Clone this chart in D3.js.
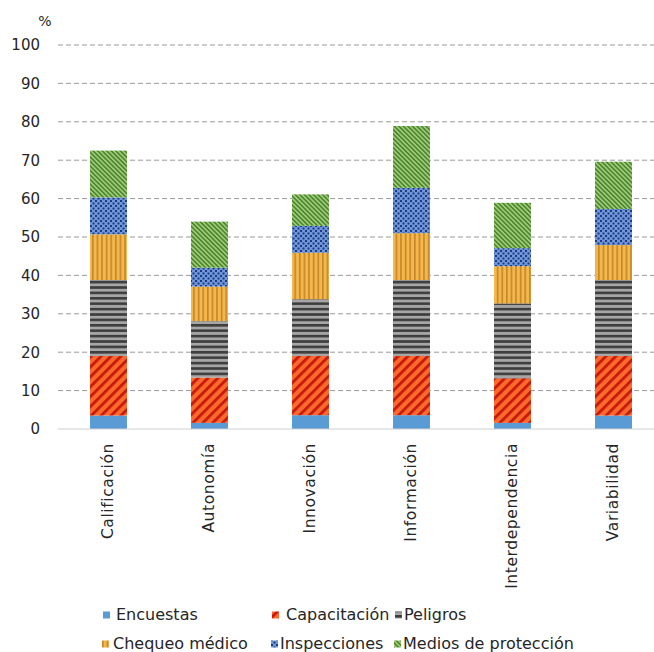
<!DOCTYPE html>
<html>
<head>
<meta charset="utf-8">
<script src="https://cdn.jsdelivr.net/npm/d3@7"></script>
<style>
  body { margin: 0; background: #fff; }
  text { font-family: "DejaVu Sans", Verdana, sans-serif; fill: #262626; }
</style>
</head>
<body>
<div id="chart"></div>
<script>
// categories and series (percent)
const categories = ['Calificación', 'Autonomía', 'Innovación', 'Información', 'Interdependencia', 'Variabilidad'];
const seriesNames = ['Encuestas', 'Capacitación', 'Peligros', 'Chequeo médico', 'Inspecciones', 'Medios de protección'];
const encuestas    = [3.5, 1.6, 3.6, 3.6, 1.6, 3.5];
const capacitacion = [15.5, 11.8, 15.4, 15.4, 11.6, 15.5];
const peligros     = [19.8, 14.7, 14.8, 19.8, 19.5, 19.8];
const chequeo      = [11.9, 9.0, 12.1, 12.2, 9.7, 9.1];
const inspecciones = [9.6, 4.9, 7.0, 11.8, 4.7, 9.4];
const medios       = [12.2, 12.0, 8.2, 16.1, 11.8, 12.3];
const yTicks = [0, 10, 20, 30, 40, 50, 60, 70, 80, 90, 100];

const seriesValues = [encuestas, capacitacion, peligros, chequeo, inspecciones, medios];
const table = categories.map((c, i) => {
  const row = { cat: c };
  seriesNames.forEach((s, j) => { row[s] = seriesValues[j][i]; });
  return row;
});

const w = 654, h = 652;
const svg = d3.select('#chart').append('svg').attr('width', w).attr('height', h);
const defs = svg.append('defs');

// fill patterns
const pat = (id, opts) => defs.append('pattern')
  .attr('id', id)
  .attr('patternUnits', 'userSpaceOnUse')
  .attr('width', opts.w).attr('height', opts.h)
  .attr('patternTransform', opts.t || null);

let p = pat('p-cap', { w: 7, h: 7, t: 'rotate(45)' });
p.append('rect').attr('width', 7).attr('height', 7).attr('fill', '#fb6a2d');
p.append('rect').attr('width', 2.8).attr('height', 7).attr('fill', '#c8180a');

p = pat('p-pel', { w: 5.4, h: 5.4 });
p.append('rect').attr('width', 5.4).attr('height', 5.4).attr('fill', '#a6a6a6');
p.append('rect').attr('width', 5.4).attr('height', 2.6).attr('fill', '#3d3d3d');

p = pat('p-che', { w: 4.6, h: 4.6 });
p.append('rect').attr('width', 4.6).attr('height', 4.6).attr('fill', '#f3b84c');
p.append('rect').attr('width', 1.6).attr('height', 4.6).attr('fill', '#c5852a');

p = pat('p-ins', { w: 5, h: 5 });
p.append('rect').attr('width', 5).attr('height', 5).attr('fill', '#7097dc');
p.append('rect').attr('width', 2).attr('height', 2).attr('fill', '#1f3a7c');
p.append('rect').attr('x', 2.5).attr('y', 2.5).attr('width', 2).attr('height', 2).attr('fill', '#1f3a7c');

p = pat('p-med', { w: 3.2, h: 3.2, t: 'rotate(-45)' });
p.append('rect').attr('width', 3.2).attr('height', 3.2).attr('fill', '#9dcb78');
p.append('rect').attr('width', 1.6).attr('height', 3.2).attr('fill', '#4e8630');

const fills = ['#5b9bd5', 'url(#p-cap)', 'url(#p-pel)', 'url(#p-che)', 'url(#p-ins)', 'url(#p-med)'];
const color = d3.scaleOrdinal().domain(seriesNames).range(fills);

// scales
const x = d3.scaleBand().domain(categories).range([58, 664]).paddingInner(0.634).paddingOuter(0.317);
const y = d3.scaleLinear().domain([0, 100]).range([429, 45]);

// gridlines
svg.append('g').selectAll('line')
  .data(yTicks.filter(d => d > 0))
  .join('line')
  .attr('x1', 58).attr('x2', 664)
  .attr('y1', d => y(d)).attr('y2', d => y(d))
  .attr('stroke', '#9a9a9a').attr('stroke-width', 1)
  .attr('stroke-dasharray', '5,3');

// y axis labels
const yAxis = svg.append('g')
  .attr('transform', 'translate(58,0)')
  .call(d3.axisLeft(y).tickValues(yTicks).tickSize(0).tickPadding(18));
yAxis.select('.domain').remove();
yAxis.selectAll('text').style('font-size', '15px').style('font-family', '"DejaVu Sans", Verdana, sans-serif').attr('fill', '#262626');

svg.append('text').attr('x', 45).attr('y', 22).attr('text-anchor', 'middle')
  .attr('dominant-baseline', 'middle').style('font-size', '14px').text('%');

// stacked bars
const stack = d3.stack().keys(seriesNames)(table);
svg.append('g').selectAll('g')
  .data(stack)
  .join('g')
  .attr('fill', d => color(d.key))
  .selectAll('rect')
  .data(d => d)
  .join('rect')
  .attr('x', d => x(d.data.cat))
  .attr('width', x.bandwidth())
  .attr('y', d => y(d[1]))
  .attr('height', d => y(d[0]) - y(d[1]));

// baseline
svg.append('line').attr('x1', 58).attr('x2', 664)
  .attr('y1', y(0)).attr('y2', y(0))
  .attr('stroke', '#d0d0d0').attr('stroke-width', 1.2);

// category labels
svg.append('g').selectAll('text')
  .data(categories)
  .join('text')
  .attr('transform', d => `translate(${x(d) + x.bandwidth() / 2},443) rotate(-90)`)
  .attr('text-anchor', 'end')
  .attr('dominant-baseline', 'middle')
  .style('font-size', '15.5px')
  .style('letter-spacing', '0.6px')
  .text(d => d);

// legend (two rows, Excel-style packing)
const legendPos = [[103, 615, 13], [272, 615, 14], [395, 615, 9], [102, 644, 11], [271, 644, 9], [394, 644, 9]];
const lg = svg.append('g').selectAll('g')
  .data(seriesNames)
  .join('g')
  .attr('transform', (d, i) => `translate(${legendPos[i][0]},${legendPos[i][1]})`);
lg.append('rect').attr('x', 0).attr('y', -3.5).attr('width', 7).attr('height', 7)
  .attr('fill', d => color(d));
lg.append('text').attr('x', (d, i) => legendPos[i][2]).attr('y', 0).attr('dominant-baseline', 'middle')
  .style('font-size', '16px').text(d => d);
</script>
</body>
</html>
